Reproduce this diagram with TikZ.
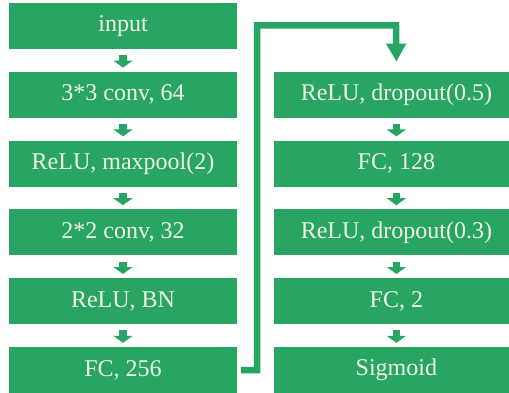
\documentclass[tikz,border=0pt]{standalone}
\usepackage{fontspec}
\setmainfont{Liberation Serif}
\usetikzlibrary{positioning}
\usetikzlibrary{arrows.meta}

\definecolor{netgreen}{RGB}{40,165,98}
\definecolor{nettext}{RGB}{240,245,232}

\begin{document}
\begin{tikzpicture}[x=1pt,y=1pt]
			\tikzset{
				layer/.style={rectangle, fill=netgreen, text=nettext, minimum height=46pt, inner sep=0pt, font=\fontsize{24}{28}\selectfont},
				leftlayer/.style={layer, minimum width=228pt},
				rightlayer/.style={layer, minimum width=244pt},
				flow/.style={-{Triangle[width=19pt,length=7pt]}, draw=netgreen, line width=7.5pt, shorten <=6pt, shorten >=4pt},
				jump/.style={-{Triangle[width=19pt,length=18pt]}, draw=netgreen, line width=6.5pt, rounded corners=0pt},
			}
			\useasboundingbox (0,0) rectangle (509,392);
			\node[leftlayer] (input) at (123,366) {input};
			\node[leftlayer, below = 22.4pt of input] (convA) {3*3 conv, 64};
			\node[leftlayer, below = 22.4pt of convA] (pool) {ReLU, maxpool(2)};
			\node[leftlayer, below = 22.4pt of pool] (convB) {2*2 conv, 32};
			\node[leftlayer, below = 22.4pt of convB] (bn) {ReLU, BN};
			\node[leftlayer, below = 22.4pt of bn] (fcA) {FC, 256};

			\node[rightlayer, right = 37pt of convA] (dropA) {ReLU, dropout(0.5)};
			\node[rightlayer, below = 22.4pt of dropA] (fcB) {FC, 128};
			\node[rightlayer, below = 22.4pt of fcB] (dropB) {ReLU, dropout(0.3)};
			\node[rightlayer, below = 22.4pt of dropB] (fcC) {FC, 2};
			\node[rightlayer, below = 22.4pt of fcC] (sigm) {Sigmoid};

			\draw[flow] (input) -- (convA);
			\draw[flow] (convA) -- (pool);
			\draw[flow] (pool) -- (convB);
			\draw[flow] (convB) -- (bn);
			\draw[flow] (bn) -- (fcA);
			\draw[flow] (dropA) -- (fcB);
			\draw[flow] (fcB) -- (dropB);
			\draw[flow] (dropB) -- (fcC);
			\draw[flow] (fcC) -- (sigm);

			\draw[jump] ([xshift=4pt]fcA.east) -- ++(16pt,0) |- (396,366.5) -- ([yshift=10pt]dropA.north);
		\end{tikzpicture}
\end{document}
